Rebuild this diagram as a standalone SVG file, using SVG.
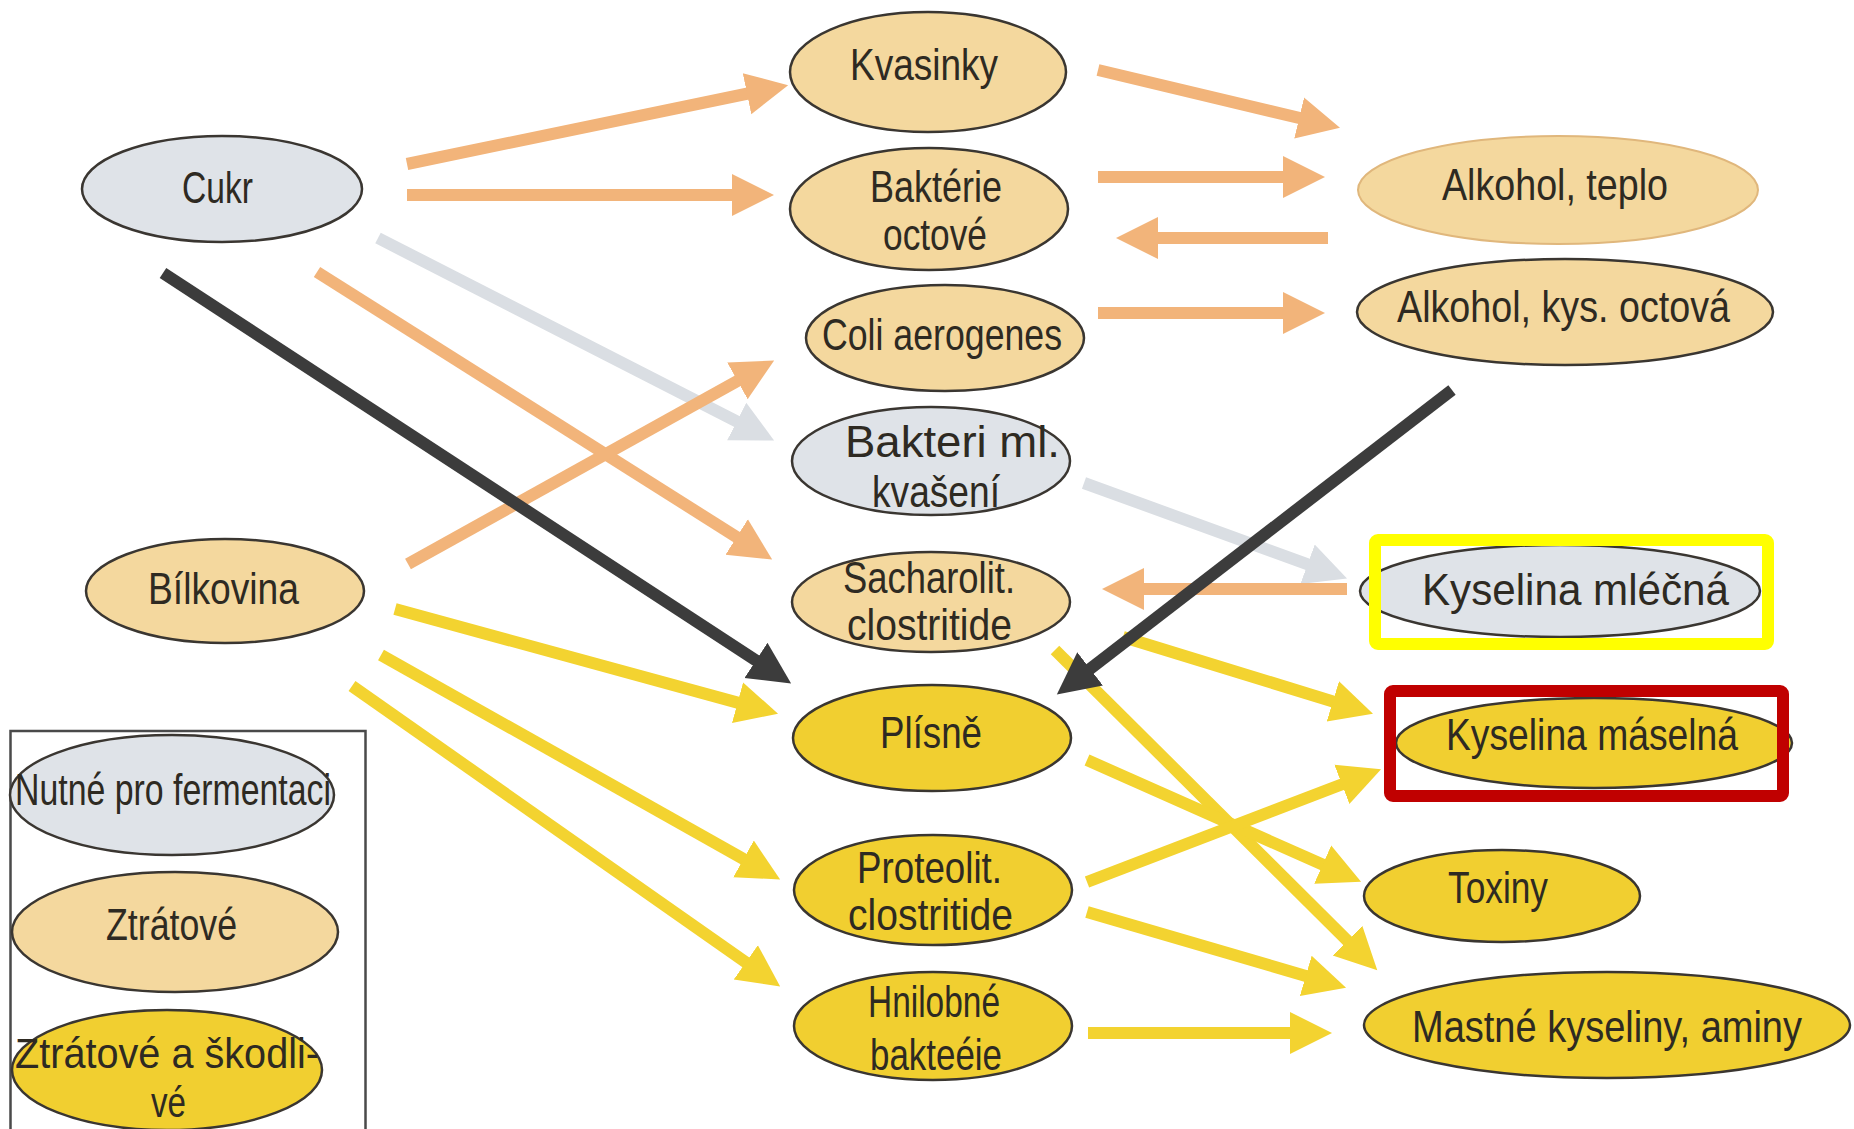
<svg xmlns="http://www.w3.org/2000/svg" width="1854" height="1129" viewBox="0 0 1854 1129">
<style>
.ell{stroke:#3a3631;stroke-width:2.5}
.gray{fill:#dfe3e8}
.tan{fill:#f4d89e}
.yel{fill:#f1cf30}
.lbl{font-family:"Liberation Sans",Arial,sans-serif;font-size:45px;fill:#2e2a22}
.sm{font-size:42px}
.sh{stroke-width:12;fill:none;stroke-linecap:butt}
.o{stroke:#f2b47a}
.y{stroke:#f3d330}
.d{stroke:#3c3c3c}
.g{stroke:#dadee3}
</style>
<defs>
<marker id="mO" markerUnits="userSpaceOnUse" markerWidth="44" markerHeight="46" viewBox="0 -23 44 46" refX="1" refY="0" orient="auto"><path d="M0,-21 L42,0 L0,21 z" fill="#f2b47a"/></marker>
<marker id="mY" markerUnits="userSpaceOnUse" markerWidth="44" markerHeight="46" viewBox="0 -23 44 46" refX="1" refY="0" orient="auto"><path d="M0,-21 L42,0 L0,21 z" fill="#f3d330"/></marker>
<marker id="mD" markerUnits="userSpaceOnUse" markerWidth="44" markerHeight="46" viewBox="0 -23 44 46" refX="1" refY="0" orient="auto"><path d="M0,-21 L42,0 L0,21 z" fill="#3c3c3c"/></marker>
<marker id="mG" markerUnits="userSpaceOnUse" markerWidth="44" markerHeight="46" viewBox="0 -23 44 46" refX="1" refY="0" orient="auto"><path d="M0,-21 L42,0 L0,21 z" fill="#dadee3"/></marker>
</defs>
<rect width="1854" height="1129" fill="#ffffff"/>

<g id="connectors">
<line class="sh o" x1="407" y1="164" x2="748" y2="93.5" marker-end="url(#mO)"/>
<line class="sh o" x1="407" y1="195" x2="733" y2="195" marker-end="url(#mO)"/>
<line class="sh g" x1="378" y1="238" x2="737.6" y2="421.9" marker-end="url(#mG)"/>
<line class="sh o" x1="317" y1="272" x2="737.5" y2="537.6" marker-end="url(#mO)"/>
<line class="sh o" x1="408" y1="564" x2="738.3" y2="380.4" marker-end="url(#mO)"/>
<line class="sh d" x1="163" y1="273" x2="756.8" y2="661" marker-end="url(#mD)"/>
<line class="sh o" x1="1098" y1="70" x2="1300.1" y2="118.2" marker-end="url(#mO)"/>
<line class="sh o" x1="1098" y1="177" x2="1284" y2="177" marker-end="url(#mO)"/>
<line class="sh o" x1="1328" y1="238" x2="1157" y2="238" marker-end="url(#mO)"/>
<line class="sh o" x1="1098" y1="313" x2="1284" y2="313" marker-end="url(#mO)"/>
<line class="sh g" x1="1084" y1="483" x2="1308.5" y2="564.6" marker-end="url(#mG)"/>
<line class="sh o" x1="1347" y1="589" x2="1143" y2="589" marker-end="url(#mO)"/>
<line class="sh y" x1="395" y1="609" x2="738.5" y2="702.9" marker-end="url(#mY)"/>
<line class="sh y" x1="381" y1="655" x2="744.4" y2="859.4" marker-end="url(#mY)"/>
<line class="sh y" x1="352" y1="686" x2="746.6" y2="962.9" marker-end="url(#mY)"/>
<line class="sh y" x1="1123" y1="637" x2="1333.8" y2="701.7" marker-end="url(#mY)"/>
<line class="sh y" x1="1055" y1="650" x2="1348.2" y2="941.4" marker-end="url(#mY)"/>
<line class="sh y" x1="1087" y1="760" x2="1323.6" y2="865" marker-end="url(#mY)"/>
<line class="sh y" x1="1087" y1="882" x2="1342.8" y2="784" marker-end="url(#mY)"/>
<line class="sh y" x1="1087" y1="912" x2="1306.7" y2="976.2" marker-end="url(#mY)"/>
<line class="sh y" x1="1088" y1="1033" x2="1291" y2="1033" marker-end="url(#mY)"/>
<line class="sh d" x1="1452" y1="390" x2="1089.3" y2="669.4" marker-end="url(#mD)"/>
</g>

<g id="cukr"><ellipse class="ell gray" cx="222" cy="189" rx="140" ry="53"/><text class="lbl" x="182" y="203" textLength="71" lengthAdjust="spacingAndGlyphs">Cukr</text></g>
<g id="bilkovina"><ellipse class="ell tan" cx="225" cy="591" rx="139" ry="52"/><text class="lbl" x="148" y="604" textLength="151" lengthAdjust="spacingAndGlyphs">Bílkovina</text></g>

<g id="kvasinky"><ellipse class="ell tan" cx="928" cy="72" rx="138" ry="60"/><text class="lbl" x="850" y="80" textLength="148" lengthAdjust="spacingAndGlyphs">Kvasinky</text></g>
<g id="bakterie-octove"><ellipse class="ell tan" cx="929" cy="209" rx="139" ry="61"/><text class="lbl" x="870" y="202" textLength="132" lengthAdjust="spacingAndGlyphs">Baktérie</text><text class="lbl" x="883" y="250" textLength="104" lengthAdjust="spacingAndGlyphs">octové</text></g>
<g id="coli"><ellipse class="ell tan" cx="945" cy="338" rx="139" ry="53"/><text class="lbl" x="822" y="350" textLength="240" lengthAdjust="spacingAndGlyphs">Coli aerogenes</text></g>
<g id="bakteri-ml"><ellipse class="ell gray" cx="931" cy="461" rx="139" ry="54"/><text class="lbl" x="845" y="457" textLength="215" lengthAdjust="spacingAndGlyphs">Bakteri ml.</text><text class="lbl" x="872" y="507" textLength="128" lengthAdjust="spacingAndGlyphs">kvašení</text></g>
<g id="sacharolit"><ellipse class="ell tan" cx="931" cy="602" rx="139" ry="50"/><text class="lbl" x="843" y="593" textLength="172" lengthAdjust="spacingAndGlyphs">Sacharolit.</text><text class="lbl" x="847" y="640" textLength="165" lengthAdjust="spacingAndGlyphs">clostritide</text></g>
<g id="plisne"><ellipse class="ell yel" cx="932" cy="738" rx="139" ry="53"/><text class="lbl" x="880" y="748" textLength="102" lengthAdjust="spacingAndGlyphs">Plísně</text></g>
<g id="proteolit"><ellipse class="ell yel" cx="933" cy="890" rx="139" ry="55"/><text class="lbl" x="857" y="883" textLength="145" lengthAdjust="spacingAndGlyphs">Proteolit.</text><text class="lbl" x="848" y="930" textLength="165" lengthAdjust="spacingAndGlyphs">clostritide</text></g>
<g id="hnilobne"><ellipse class="ell yel" cx="933" cy="1026" rx="139" ry="54"/><text class="lbl" x="868" y="1017" textLength="132" lengthAdjust="spacingAndGlyphs">Hnilobné</text><text class="lbl" x="870" y="1070" textLength="132" lengthAdjust="spacingAndGlyphs">bakteéie</text></g>

<g id="alkohol-teplo"><ellipse class="tan" cx="1558" cy="190" rx="200" ry="54" stroke="#e0b77c" stroke-width="2"/><text class="lbl" x="1442" y="200" textLength="226" lengthAdjust="spacingAndGlyphs">Alkohol, teplo</text></g>
<g id="alkohol-octova"><ellipse class="ell tan" cx="1565" cy="312" rx="208" ry="53"/><text class="lbl" x="1397" y="322" textLength="333" lengthAdjust="spacingAndGlyphs">Alkohol, kys. octová</text></g>
<g id="kyselina-mlecna"><ellipse class="ell gray" cx="1560" cy="591" rx="200" ry="46"/><text class="lbl" x="1422" y="605" textLength="307" lengthAdjust="spacingAndGlyphs">Kyselina  mléčná</text><rect x="1375" y="540" width="393" height="104" rx="3" fill="none" stroke="#ffff00" stroke-width="12"/></g>
<g id="kyselina-maselna"><ellipse class="ell yel" cx="1594" cy="743" rx="198" ry="45"/><text class="lbl" x="1446" y="750" textLength="292" lengthAdjust="spacingAndGlyphs">Kyselina  máselná</text><rect x="1390" y="691" width="393" height="105" rx="3" fill="none" stroke="#c00000" stroke-width="12"/></g>
<g id="toxiny"><ellipse class="ell yel" cx="1502" cy="896" rx="138" ry="46"/><text class="lbl" x="1448" y="903" textLength="100" lengthAdjust="spacingAndGlyphs">Toxiny</text></g>
<g id="mastne"><ellipse class="ell yel" cx="1607" cy="1025" rx="243" ry="53"/><text class="lbl" x="1412" y="1042" textLength="390" lengthAdjust="spacingAndGlyphs">Mastné kyseliny, aminy</text></g>

<g id="legend">
<rect x="10.5" y="731" width="355" height="420" fill="none" stroke="#4a4a4a" stroke-width="2.5"/>
<g id="legend-nutne"><ellipse class="ell gray" cx="172" cy="795" rx="162" ry="60"/><text class="lbl" x="15" y="805" textLength="316" lengthAdjust="spacingAndGlyphs">Nutné pro fermentaci</text></g>
<g id="legend-ztratove"><ellipse class="ell tan" cx="175" cy="932" rx="163" ry="60"/><text class="lbl" x="106" y="940" textLength="131" lengthAdjust="spacingAndGlyphs">Ztrátové</text></g>
<g id="legend-skodlive"><ellipse class="ell yel" cx="167" cy="1070" rx="155" ry="60"/><text class="lbl sm" x="15" y="1068" textLength="304" lengthAdjust="spacingAndGlyphs">Ztrátové a škodli-</text><text class="lbl sm" x="151" y="1117" textLength="35" lengthAdjust="spacingAndGlyphs">vé</text></g>
</g>
</svg>
